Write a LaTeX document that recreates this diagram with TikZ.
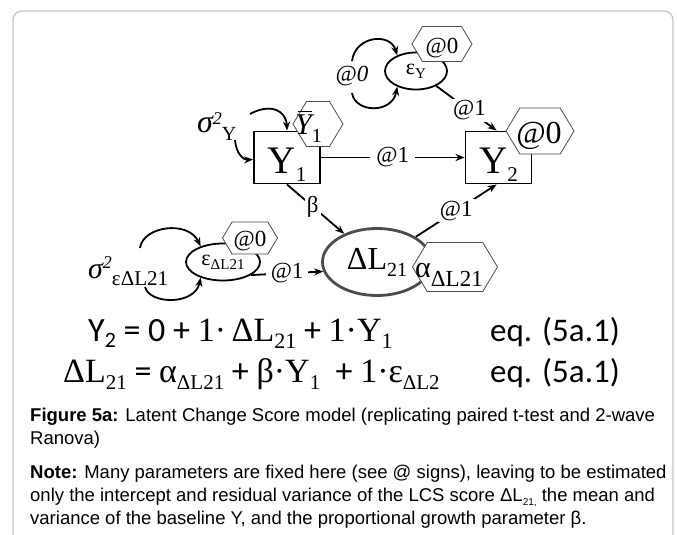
\documentclass[tikz,border=0pt]{standalone}
\usepackage{fontspec}
\setmainfont{Liberation Serif}
\newfontfamily\calib{Carlito}
\newfontfamily\arialf{Liberation Sans}
\usetikzlibrary{shapes.geometric,arrows.meta,calc}
\newcommand\fsz[1]{\fontsize{#1}{#1}\selectfont}
\newcommand\hexbox[4]{%
  \filldraw[hexline] ({#1-#3/2},#2) -- ({#1-#3/2+0.3*#4},{#2-#4/2}) -- ({#1+#3/2-0.3*#4},{#2-#4/2}) -- ({#1+#3/2},#2) -- ({#1+#3/2-0.3*#4},{#2+#4/2}) -- ({#1-#3/2+0.3*#4},{#2+#4/2}) -- cycle;}
\newcommand\ybarsym{\setbox0\hbox{\itshape Y}\rlap{\kern2.5pt\raisebox{\dimexpr\ht0+2pt}{\rule{\dimexpr\wd0-2pt}{1.3pt}}}\box0}
\begin{document}
\begin{tikzpicture}[x=1pt,y=-1pt,
  arr/.style={-{Stealth[length=9pt,width=7pt]},line width=1.8pt},
  boxn/.style={draw,line width=1.9pt,minimum width=66pt,minimum height=52pt,inner sep=0pt,text height=33pt,text depth=2pt},
  ell/.style={ellipse,draw,line width=1.8pt,inner sep=0pt},
  hexline/.style={draw=black!70,fill=white,line width=0.8pt},
  lbl/.style={fill=white,inner sep=2pt,font=\fsz{23}},
  tx/.style={inner sep=0pt}]
\useasboundingbox (0,0) rectangle (677,535);
\draw[gray!45,line width=1.3pt,rounded corners=9pt] (13,11) rectangle (673,580);

% main boxes and ellipses
\node[boxn] (y1) at (287,157.5) {\fsz{39}Y\raisebox{-8pt}{\fsz{21}1}};
\node[boxn] (y2) at (498.5,157.5) {\fsz{39}Y\raisebox{-8pt}{\fsz{21}2}};
\node[ell,minimum width=62pt,minimum height=37pt] (ey) at (416,71) {\fsz{22}ε\raisebox{-4pt}{\fsz{15}Y}};
\node[ell,draw=black!70,line width=2.8pt,minimum width=109pt,minimum height=67pt] (dl) at (377,262) {\fsz{32}ΔL\raisebox{-7pt}{\fsz{20}21}};
\node[ell,minimum width=74pt,minimum height=37pt] (edl) at (223,262) {\fsz{22}ε\raisebox{-4pt}{\fsz{15}ΔL21}};

% hexagons
\hexbox{318}{124}{50}{45}
\node[tx,anchor=base west] (ybar) at (295,134) {\fsz{30}\ybarsym\raisebox{-8pt}{\fsz{20}1}};
\hexbox{540}{131}{68}{46}
\node[tx,anchor=base] (h2) at (539,143) {\fsz{32}@0};
\hexbox{442}{44}{60}{35}
\node[tx,anchor=base] (hey) at (442,53) {\fsz{23}@0};
\hexbox{250}{238}{55}{32}
\node[tx,anchor=base] (hedl) at (250,246) {\fsz{23}@0};
\hexbox{455}{267}{85}{49}
\node[tx,anchor=base west] (alpha) at (415,277) {\fsz{30}α\raisebox{-9pt}{\fsz{23}ΔL21}};

% variance labels
\node[tx,anchor=base west] (sy) at (197,132) {\fsz{32}\itshape σ\raisebox{8pt}{\fsz{18}2}\upshape\raisebox{-8pt}{\fsz{20}Y}};
\node[tx,anchor=base west] (sdl) at (88,278) {\fsz{30}\itshape σ\raisebox{10pt}{\fsz{18}2}\upshape\raisebox{-7pt}{\fsz{21}εΔL21}};
\node[tx] (loopy) at (352,76) {\fsz{23}\itshape @0};

% free ends
\coordinate (sy1) at (250,114);
\coordinate (sy2) at (235,140);
\coordinate (ly1) at (352,61);
\coordinate (ly2) at (352,93);
\coordinate (ld1) at (140,248);
\coordinate (ld2) at (145,287);

% connectors
\draw[arr] (sy1) .. controls (270,103) and (286,110) .. ($(y1.north west)+(34,0)$);
\draw[arr] (sy2) .. controls (236,153) and (243,160) .. ($(y1.west)+(0,2)$);
\draw[arr] (ly1) .. controls (355,36) and (390,32) .. (ey.140);
\draw[arr] (ly2) .. controls (355,113) and (392,114) .. (ey.220);
\draw[arr] (ld1) .. controls (143,226) and (188,220) .. (edl.145);
\draw[arr] (ld2) .. controls (150,305) and (195,305) .. (edl.215);

\draw[arr] (y1) -- node[lbl,inner xsep=6pt] (l1) {@1} (y2);
\draw[arr] (ey) -- node[lbl,pos=0.55] (l2) {@1} ($(y2.north west)+(32,0)$);
\draw[arr] (y1.south) -- node[lbl,font=\fsz{23},pos=0.45] (lb) {β} (dl);
\draw[arr] (dl) -- node[lbl,pos=0.5] (l3) {@1} ($(y2.south west)+(32,0)$);
\draw[arr] (edl.-25) -- node[lbl,inner xsep=5pt] (l4) {@1} (dl.190);

% equations
\node[tx,anchor=base west] (eq1) at (88,341) {\calib\fsz{34}Y\raisebox{-6pt}{\fsz{22}2} = 0 + {\rmfamily 1·\,ΔL\raisebox{-7pt}{\fsz{22}21}} + {\rmfamily 1·Y\raisebox{-7pt}{\fsz{22}1}}};
\node[tx,anchor=base west] (eq2) at (63,382) {\rmfamily\fsz{34}ΔL\raisebox{-7pt}{\fsz{21}21}{\calib\ = }α\raisebox{-7pt}{\fsz{21}ΔL21}{\calib\ + }β·Y\raisebox{-7pt}{\fsz{21}1}{\calib\ \ + }1·ε\raisebox{-7pt}{\fsz{21}ΔL2}};
\node[tx,anchor=base west] (eqn1) at (490,341) {\calib\fsz{33}eq. (5a.1)};
\node[tx,anchor=base west] (eqn2) at (490,382) {\calib\fsz{33}eq. (5a.1)};

% caption
\node[tx,anchor=base west] (cap1) at (30,421) {\arialf\fsz{18.5}\textbf{Figure 5a:} Latent Change Score model (replicating paired t-test and 2-wave};
\node[tx,anchor=base west] (cap2) at (30,444) {\arialf\fsz{18.5}Ranova)};
\node[tx,anchor=base west] (note1) at (30,478) {\arialf\fsz{18.5}\textbf{Note:} Many parameters are fixed here (see @ signs), leaving to be estimated};
\node[tx,anchor=base west] (note2) at (30,501) {\arialf\fsz{18.5}only the intercept and residual variance of the LCS score ΔL\raisebox{-4pt}{\fsz{10}21,} the mean and};
\node[tx,anchor=base west] (note3) at (30,524) {\arialf\fsz{18.5}variance of the baseline Y, and the proportional growth parameter β.};
\end{tikzpicture}
\end{document}
